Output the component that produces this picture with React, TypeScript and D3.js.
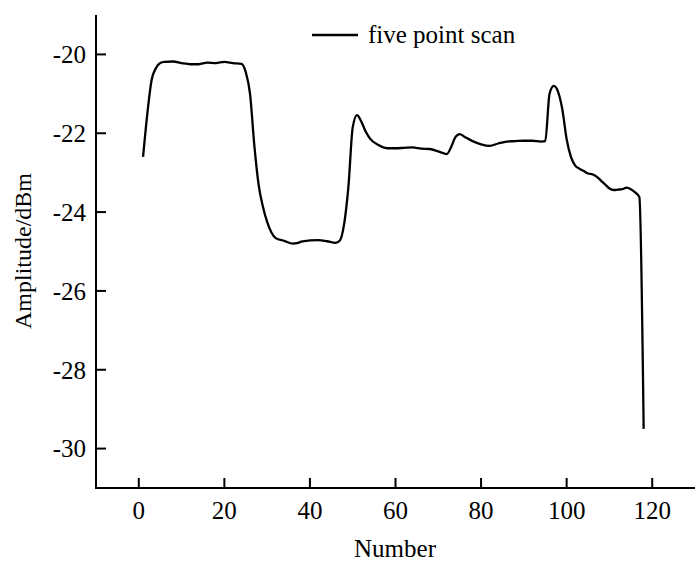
import React from "react";
import * as d3 from "d3";

const xValues = [1, 2, 3, 4, 5, 6, 8, 10, 12, 14, 16, 18, 20, 22, 24, 25, 26, 27, 28, 29, 30, 31, 32, 34, 36, 37, 38, 40, 42, 44, 46, 47, 48, 49, 50, 51, 52, 53, 54, 56, 58, 60, 62, 64, 66, 68, 70, 72, 73, 74, 75, 76, 78, 80, 82, 84, 86, 88, 90, 92, 94, 95, 96, 97, 98, 99, 100, 101, 102, 103, 104, 105, 106, 107, 108, 109, 110, 111, 112, 113, 114, 115, 116, 117, 118];
const amplitude = [-22.6, -21.5, -20.65, -20.35, -20.22, -20.19, -20.18, -20.22, -20.25, -20.25, -20.21, -20.22, -20.19, -20.22, -20.24, -20.45, -21.0, -22.3, -23.3, -23.86, -24.25, -24.52, -24.66, -24.73, -24.8, -24.79, -24.75, -24.72, -24.71, -24.74, -24.78, -24.72, -24.3, -23.35, -21.85, -21.54, -21.7, -21.95, -22.13, -22.3, -22.38, -22.38, -22.37, -22.36, -22.39, -22.4, -22.46, -22.53, -22.35, -22.1, -22.02, -22.08, -22.2, -22.28, -22.32, -22.26, -22.21, -22.2, -22.19, -22.19, -22.21, -22.2, -21.0, -20.8, -20.95, -21.4, -22.15, -22.6, -22.82, -22.9, -22.96, -23.02, -23.04, -23.1, -23.2, -23.3, -23.4, -23.44, -23.43, -23.42, -23.38, -23.42, -23.5, -23.62, -29.5];
const xTicks = [0, 20, 40, 60, 80, 100, 120];
const yTicks = [-20, -22, -24, -26, -28, -30];
const seriesName = "five point scan";
const xLabel = "Number";
const yLabel = "Amplitude/dBm";

export default function App() {
  const W = 700, H = 563;
  const x = d3.scaleLinear().domain([-10, 130]).range([96, 695]);
  const y = d3.scaleLinear().domain([-31, -19]).range([488, 15]);
  const pts = xValues.map((v, i) => [v, amplitude[i]] as [number, number]);
  const line = d3.line<[number, number]>().x(d => x(d[0])).y(d => y(d[1])).curve(d3.curveMonotoneX);
  const font = "'Liberation Serif', 'Times New Roman', serif";
  const fs = 25;
  return (
    <svg width={W} height={H} style={{ position: "absolute", left: 0, top: 0, background: "#fff" }} fontFamily={font}>
      <rect x={0} y={0} width={W} height={H} fill="#fff" />
      <line x1={96} y1={y(-19)} x2={96} y2={488} stroke="#000" strokeWidth={2} />
      <line x1={95} y1={488} x2={695} y2={488} stroke="#000" strokeWidth={2} />
      {yTicks.map(t => (
        <g key={"y" + t}>
          <line x1={96} x2={106} y1={y(t)} y2={y(t)} stroke="#000" strokeWidth={2} />
          <text x={86} y={y(t)} dy="0.35em" textAnchor="end" fontSize={fs}>{t}</text>
        </g>
      ))}
      {xTicks.map(t => (
        <g key={"x" + t}>
          <line x1={x(t)} x2={x(t)} y1={488} y2={478} stroke="#000" strokeWidth={2} />
          <text x={x(t)} y={519} textAnchor="middle" fontSize={fs}>{t}</text>
        </g>
      ))}
      <text x={395} y={557} textAnchor="middle" fontSize={fs}>{xLabel}</text>
      <text transform="translate(31,251) rotate(-90)" textAnchor="middle" fontSize={24}>{yLabel}</text>
      <line x1={312} x2={358} y1={35} y2={35} stroke="#000" strokeWidth={2.5} />
      <text x={368} y={43} fontSize={fs}>{seriesName}</text>
      <path d={line(pts) || ""} fill="none" stroke="#000" strokeWidth={2.3} strokeLinejoin="round" />
    </svg>
  );
}
